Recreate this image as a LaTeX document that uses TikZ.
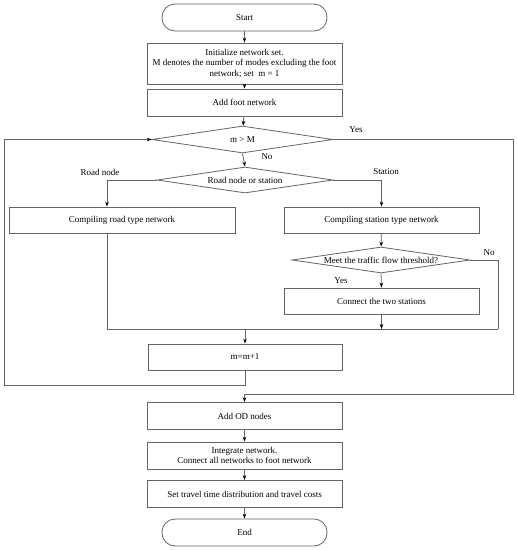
\documentclass[tikz,border=0pt]{standalone}
\usepackage{fontspec}
\setmainfont{Liberation Serif}
\usepackage{tikz}
\usetikzlibrary{arrows.meta}
\usetikzlibrary{shapes.geometric}
\definecolor{linegray}{RGB}{100,100,100}

\begin{document}
\begin{tikzpicture}[x=1pt,y=-1pt,>={Stealth[length=5pt,width=3.6pt,black]},
    every node/.style={font=\fontsize{9}{10.6}\selectfont,text=black},
    box/.style={rectangle,draw=linegray,line width=0.8pt,inner sep=0pt,align=center,minimum height=27pt},
    term/.style={rectangle,rounded corners=13pt,draw=linegray,line width=0.8pt,minimum width=165pt,minimum height=27pt,inner sep=0pt},
    decide/.style={diamond,aspect=6.7,draw=linegray,line width=0.8pt,inner sep=0pt,minimum height=27pt},
    flow/.style={draw=linegray,line width=0.8pt}] % network building flowchart
    	\useasboundingbox (0,0) rectangle (517,550);
    	
    	\node[term] (start) at (244.5,17.5) {Start};
    	\node[box,minimum width=195pt,minimum height=41pt] (init) at (244.5,63.5)
    	{Initialize network set.\\M denotes the number of modes excluding the foot\\network; set\ \ m = 1};
    	\node[box,minimum width=195pt] (foot) at (244.5,102.5) {Add foot network};
    	
    	\node[decide,minimum width=181pt] (mgtM) at (242.5,139.5) {m > M};
    	\node[decide,minimum width=176pt,minimum height=26pt] (rns) at (245,180) {Road node or station};
    	
    	\node[box,minimum width=226pt,minimum height=26pt] (road) at (122,220) {Compiling road type network};
    	\node[box,minimum width=195pt,minimum height=26pt] (station) at (381.5,220) {Compiling station type network};
    	\node[decide,minimum width=178pt,minimum height=26pt] (meet) at (381,260) {Meet the traffic flow threshold?};
    	\node[box,minimum width=195pt,minimum height=26pt] (connect) at (381.5,301) {Connect the two stations};
    	\node[box,minimum width=194pt,minimum height=26pt] (inc) at (245,357) {m=m+1};
    	
    	\foreach \i/\y/\txt in {1/416/{Add OD nodes},2/455.5/{Integrate network.\\Connect all networks to foot network},3/494/{Set travel time distribution and travel costs}}{
    		\node[box,minimum width=195pt] (tail\i) at (244.5,\y) {\txt};
    	}
    	\node[term] (end) at (244.5,532.5) {End};
    	
    	\coordinate (mergeR) at (498,329);
    	\coordinate (loopL) at (4,385);
    	\coordinate (yesR) at (513,394);
    	
    	% main column
    	\draw[flow,->] (start) -- (init);
    	\draw[flow,->] (init) -- (foot);
    	\draw[flow,->] (foot) -- (mgtM);
    	\draw[flow,->] (mgtM.south) -- (rns.north);
    	\draw[flow,->] (tail1) -- (tail2);
    	\draw[flow,->] (tail2) -- (tail3);
    	\draw[flow,->] (tail3) -- (end);
    	
    	% branches
    	\draw[flow,->] (rns.west) -| ([xshift=-15pt]road.north);
    	\draw[flow,->] (rns.east) -| (station.north);
    	\draw[flow,->] (station) -- (meet);
    	\draw[flow,->] (meet.south) -- (connect.north);
    	\draw[flow] (meet.east) -| (mergeR);
    	\draw[flow] ([xshift=-15pt]road.south) |- (mergeR);
    	\draw[flow,->] (connect.south) -- (connect.south |- mergeR);
    	\draw[flow,->] (inc.north |- mergeR) -- (inc.north);
    	
    	% loop and exit
    	\draw[flow,->] (inc.south) |- (loopL) |- (mgtM.west);
    	\draw[flow,->] (mgtM.east) -| (yesR) -| (tail1.north);
    	
    	\node (yes1) at (356,130) {Yes};
    	\node (no1) at (267,157) {No};
    	\node (roadlbl) at (100,172) {Road node};
    	\node (stationlbl) at (386,172) {Station};
    	\node (no2) at (489,253) {No};
    	\node (yes2) at (341,281) {Yes};
    \end{tikzpicture}
\end{document}
